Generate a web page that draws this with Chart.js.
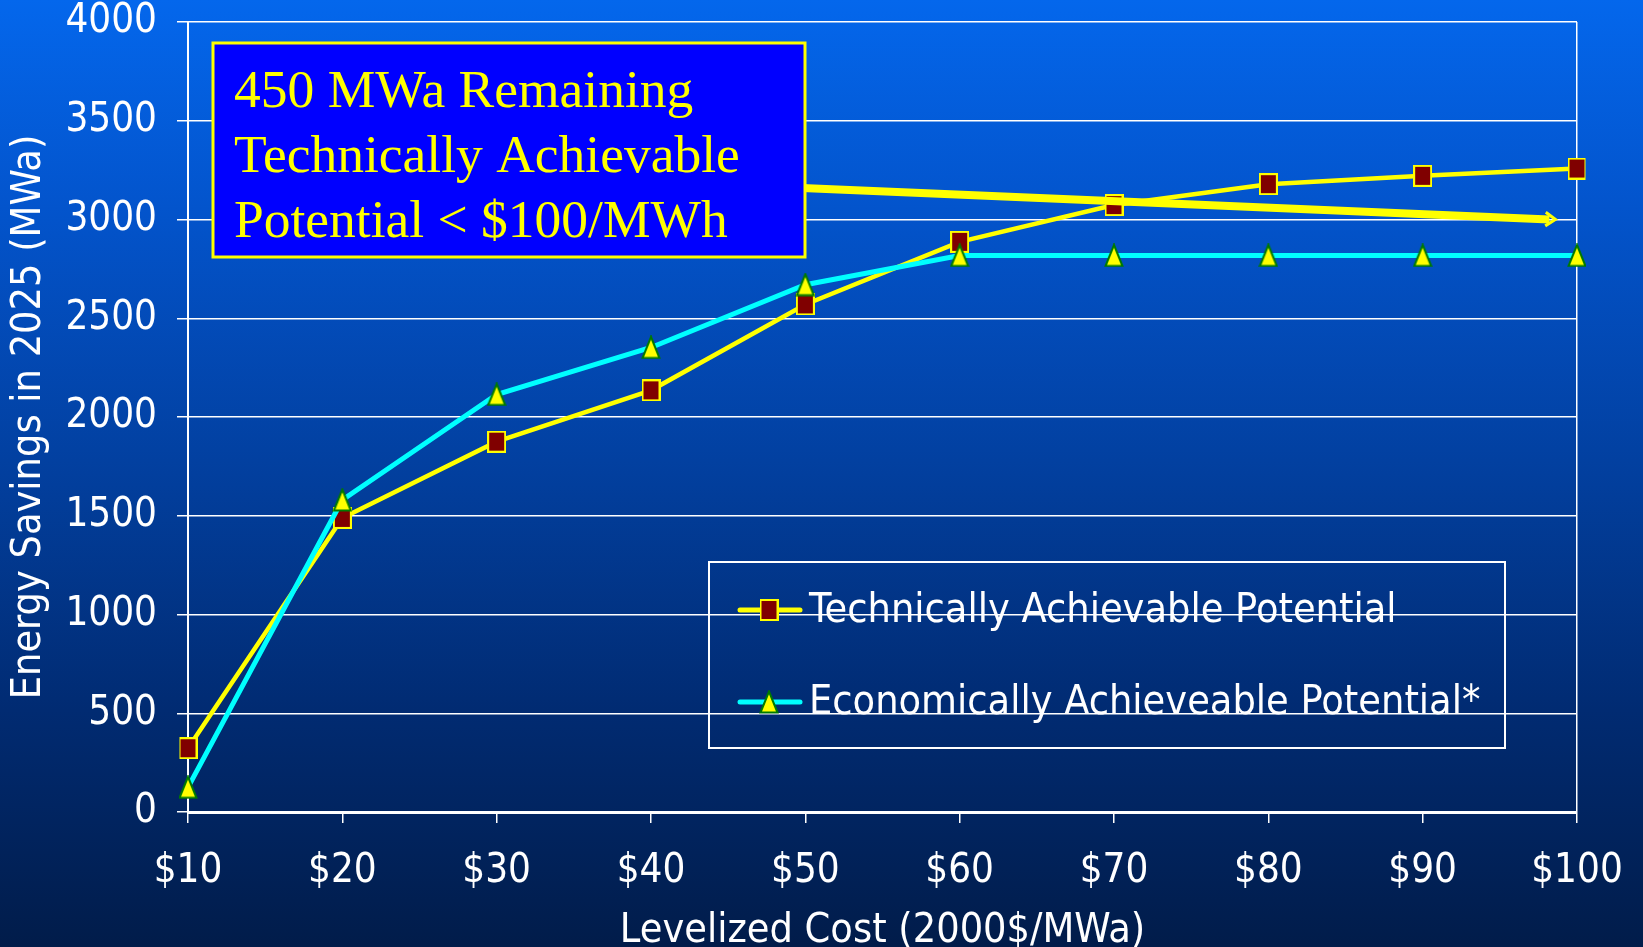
<!DOCTYPE html>
<html>
<head>
<meta charset="utf-8">
<script src="https://cdn.jsdelivr.net/npm/chart.js"></script>
<style>
  html, body { margin: 0; padding: 0; }
  body {
    width: 1643px; height: 947px; overflow: hidden;
    background: linear-gradient(to bottom, #0467ec 0%, #0354cc 22%, #023f9e 50%, #012b72 75%, #011c4a 100%);
  }
  #chart { display: block; }
</style>
<script>
  // values
  var costLabels = ['$10', '$20', '$30', '$40', '$50', '$60', '$70', '$80', '$90', '$100'];
  var technicalPotential = [323, 1489, 1875, 2135, 2570, 2887, 3073, 3179, 3221, 3258];
  var economicPotential = [125, 1580, 2114, 2352, 2670, 2818, 2818, 2818, 2818, 2818];
  var yMin = 0, yMax = 4000, yStep = 500;

  var seriesNames = ['Technically Achievable Potential', 'Economically Achieveable Potential*'];
  var boxLines = ['450 MWa Remaining', 'Technically Achievable', 'Potential < $100/MWh'];
</script>
</head>
<body>
<canvas id="chart" width="1643" height="947" style="width:1643px;height:947px"></canvas>
<script>
  var sansFont = '"DejaVu Sans Condensed", "DejaVu Sans", Verdana, sans-serif';

  // marker pictures, used by the lines and by the legend
  function squareMarker() {
    var c = document.createElement('canvas');
    c.width = 19; c.height = 22;
    var g = c.getContext('2d');
    g.fillStyle = '#ffff00';
    g.fillRect(0, 0, 19, 22);
    g.fillStyle = '#800000';
    g.fillRect(2, 2, 15, 18);
    return c;
  }
  function triangleMarker() {
    var c = document.createElement('canvas');
    c.width = 20; c.height = 24;
    var g = c.getContext('2d');
    g.beginPath();
    g.moveTo(10, 1.5);
    g.lineTo(18.5, 22.5);
    g.lineTo(1.5, 22.5);
    g.closePath();
    g.fillStyle = '#ffff00';
    g.fill();
    g.lineWidth = 2;
    g.strokeStyle = '#007a00';
    g.stroke();
    return c;
  }
  var sq = squareMarker();
  var tri = triangleMarker();

  // annotation box, arrow and legend drawn on top
  var overlay = {
    id: 'overlay',
    afterDraw: function (chart) {
      var ctx = chart.ctx;
      var x = chart.scales.x, y = chart.scales.y;
      ctx.save();

      // arrow from the box toward the $100 end
      var ax0 = x.getPixelForValue(3.98), ay0 = y.getPixelForValue(3160);
      var ax1 = x.getPixelForValue(8.86), ay1 = y.getPixelForValue(3000);
      ctx.strokeStyle = '#ffff00';
      ctx.lineWidth = 8;
      ctx.beginPath();
      ctx.moveTo(ax0, ay0);
      ctx.lineTo(ax1 - 6, ay1);
      ctx.stroke();
      var ang = Math.atan2(ay1 - ay0, ax1 - ax0);
      ctx.lineWidth = 3;
      ctx.beginPath();
      ctx.moveTo(ax1 - 12 * Math.cos(ang - 0.6), ay1 - 12 * Math.sin(ang - 0.6));
      ctx.lineTo(ax1, ay1);
      ctx.lineTo(ax1 - 12 * Math.cos(ang + 0.6), ay1 - 12 * Math.sin(ang + 0.6));
      ctx.stroke();

      // blue box with the note
      ctx.fillStyle = '#0000ff';
      ctx.fillRect(213, 43, 592, 214);
      ctx.strokeStyle = '#ffff00';
      ctx.lineWidth = 3;
      ctx.strokeRect(213, 43, 592, 214);
      ctx.fillStyle = '#ffff00';
      ctx.font = '53.5px "Liberation Serif", "Times New Roman", serif';
      ctx.textBaseline = 'alphabetic';
      ctx.textAlign = 'left';
      boxLines.forEach(function (t, i) {
        ctx.fillText(t, 234, 107 + i * 65);
      });

      // legend
      ctx.strokeStyle = '#ffffff';
      ctx.lineWidth = 2;
      ctx.strokeRect(709, 562, 796, 186);
      var rows = [610, 702];
      chart.data.datasets.forEach(function (ds) {
        var ry = rows[ds.legendRow];
        ctx.strokeStyle = ds.borderColor;
        ctx.lineWidth = 5;
        ctx.lineCap = 'round';
        ctx.beginPath();
        ctx.moveTo(740, ry);
        ctx.lineTo(800, ry);
        ctx.stroke();
        var img = ds.pointStyle;
        ctx.drawImage(img, 769 - img.width / 2, ry - img.height / 2);
        ctx.fillStyle = '#ffffff';
        ctx.font = '41px ' + sansFont;
        ctx.textBaseline = 'middle';
        ctx.fillText(ds.label, 809, ry + 1);
      });
      ctx.restore();
    }
  };

  new Chart(document.getElementById('chart'), {
    type: 'line',
    data: {
      labels: costLabels,
      datasets: [
        {
          label: seriesNames[0],
          data: technicalPotential,
          borderColor: '#ffff00',
          borderWidth: 4.5,
          pointStyle: sq,
          legendRow: 0,
          order: 1
        },
        {
          label: seriesNames[1],
          data: economicPotential,
          borderColor: '#00ffff',
          borderWidth: 5,
          pointStyle: tri,
          legendRow: 1,
          order: 0
        }
      ]
    },
    options: {
      responsive: false,
      animation: false,
      layout: { padding: { top: 22, right: 66, left: 0, bottom: 0 } },
      plugins: { legend: { display: false }, tooltip: { enabled: false } },
      scales: {
        x: {
          type: 'category',
          offset: false,
          afterFit: function (s) { s.height = 135; s.paddingLeft = 0; s.paddingRight = 0; },
          border: { display: true, color: '#ffffff', width: 3 },
          grid: {
            drawOnChartArea: true,
            color: function (c) { return c.index === costLabels.length - 1 ? '#ffffff' : 'rgba(0,0,0,0)'; },
            lineWidth: 1.5,
            tickColor: '#ffffff',
            tickLength: 11
          },
          ticks: {
            color: '#ffffff',
            font: { family: sansFont, size: 40 },
            padding: 25,
            maxRotation: 0,
            autoSkip: false
          },
          title: {
            display: true,
            text: 'Levelized Cost (2000$/MWa)',
            color: '#ffffff',
            font: { family: sansFont, size: 41, lineHeight: 0.75 },
            padding: { top: 0, bottom: 0 }
          }
        },
        y: {
          min: yMin,
          max: yMax,
          afterFit: function (s) { s.width = 188; s.paddingTop = 0; s.paddingBottom = 0; },
          border: { display: true, color: '#ffffff', width: 2 },
          grid: {
            color: '#ffffff',
            lineWidth: 1.5,
            tickColor: '#ffffff',
            tickLength: 11
          },
          ticks: {
            stepSize: yStep,
            color: '#ffffff',
            font: { family: sansFont, size: 40 },
            padding: 20,
            callback: function (v) { return String(v); }
          },
          title: {
            display: true,
            text: 'Energy Savings in 2025 (MWa)',
            color: '#ffffff',
            font: { family: sansFont, size: 41, lineHeight: 1 },
            padding: { top: 9, bottom: 0 }
          }
        }
      }
    },
    plugins: [overlay]
  });
</script>
</body>
</html>
